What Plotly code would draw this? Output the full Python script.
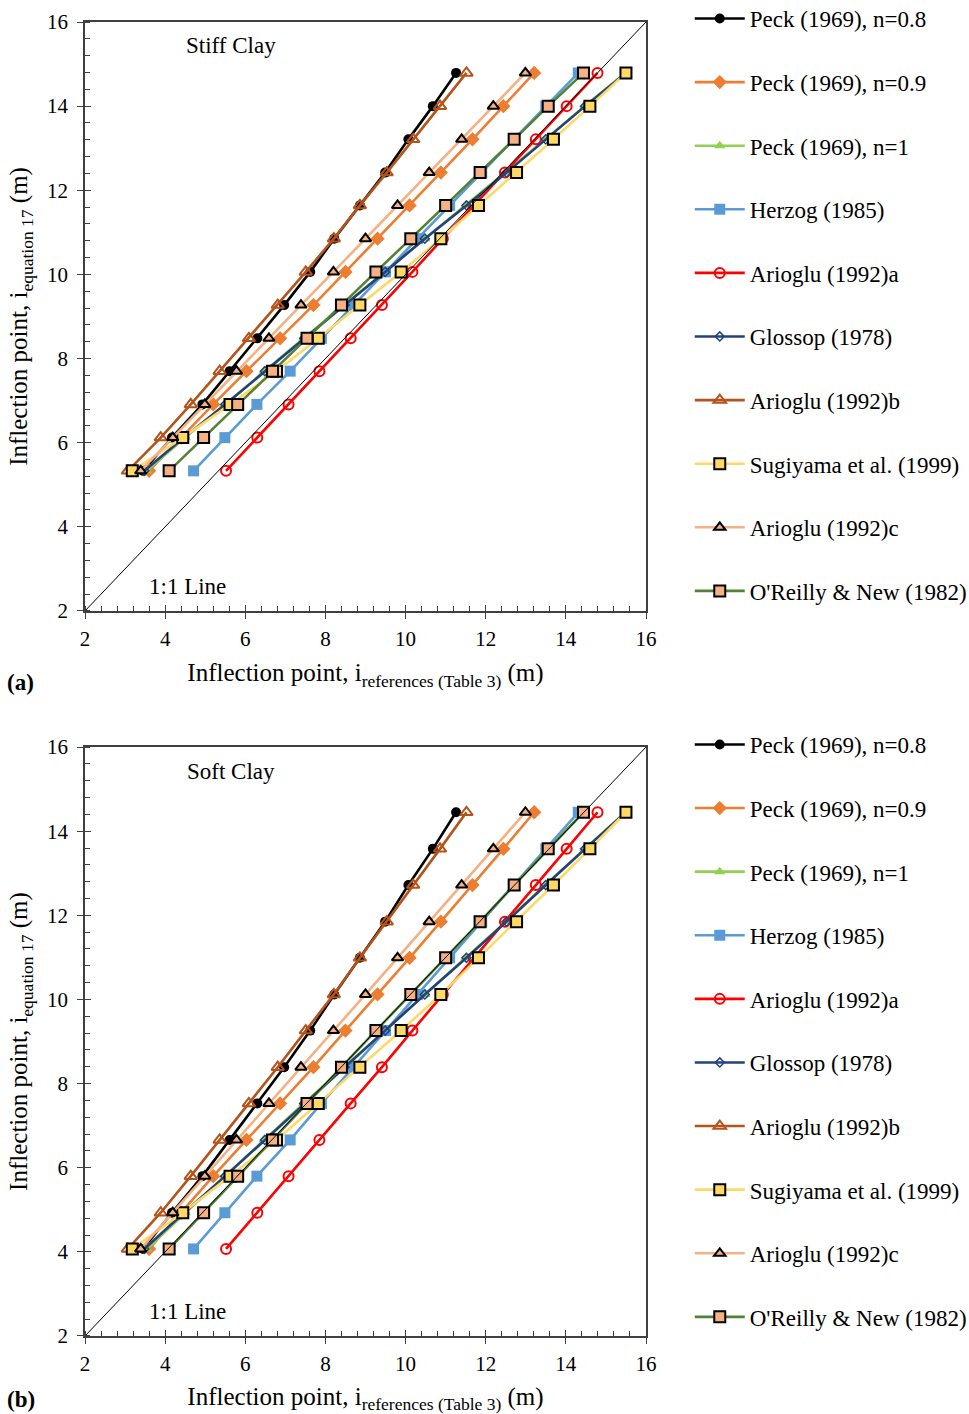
import plotly.graph_objects as go

# ---------------- data ----------------
y_stiff = [5.33, 6.12, 6.91, 7.70, 8.48, 9.27, 10.06, 10.85, 11.64, 12.42, 13.21, 14.00, 14.79]
y_soft = [4.07, 4.93, 5.80, 6.66, 7.53, 8.39, 9.26, 10.12, 10.99, 11.85, 12.72, 13.58, 14.45]

peck_08 = [3.45, 4.17, 4.93, 5.61, 6.30, 6.97, 7.62, 8.22, 8.86, 9.49, 10.07, 10.68, 11.26]
peck_09 = [3.60, 4.40, 5.20, 6.03, 6.87, 7.70, 8.50, 9.30, 10.10, 10.88, 11.67, 12.44, 13.21]
peck_1 = [3.54, 4.50, 5.49, 6.47, 7.46, 8.47, 9.48, 10.48, 11.51, 12.50, 13.49, 14.47, 15.48]
herzog = [4.71, 5.49, 6.29, 7.12, 7.90, 8.70, 9.50, 10.30, 11.10, 11.90, 12.70, 13.50, 14.31]
arioglu_a = [5.52, 6.30, 7.08, 7.85, 8.63, 9.41, 10.17, 10.93, 11.70, 12.48, 13.25, 14.02, 14.79]
glossop = [3.48, 4.47, 5.50, 6.49, 7.47, 8.48, 9.49, 10.48, 11.52, 12.52, 13.50, 14.48, 15.50]
arioglu_b = [3.07, 3.89, 4.64, 5.36, 6.09, 6.81, 7.51, 8.21, 8.86, 9.53, 10.19, 10.86, 11.52]
sugiyama = [3.18, 4.44, 5.62, 6.78, 7.82, 8.86, 9.89, 10.88, 11.82, 12.77, 13.69, 14.60, 15.50]
arioglu_c = [3.39, 4.19, 4.99, 5.78, 6.59, 7.39, 8.20, 9.00, 9.80, 10.59, 11.40, 12.19, 12.99]
oreilly = [4.10, 4.96, 5.81, 6.68, 7.54, 8.40, 9.26, 10.13, 11.00, 11.86, 12.71, 13.56, 14.44]

series_names = ["Peck (1969), n=0.8", "Peck (1969), n=0.9", "Peck (1969), n=1",
                "Herzog (1985)", "Arioglu (1992)a", "Glossop (1978)", "Arioglu (1992)b",
                "Sugiyama et al. (1999)", "Arioglu (1992)c", "O'Reilly & New (1982)"]
series_x = [peck_08, peck_09, peck_1, herzog, arioglu_a, glossop, arioglu_b,
            sugiyama, arioglu_c, oreilly]

one_to_one = [2, 16]
tick_vals = [2, 4, 6, 8, 10, 12, 14, 16]

# ---------------- styles ----------------
FONT = "Liberation Serif"
styles = [
    dict(line="#000000", symbol="circle", fill="#000000", mline="#000000", mw=0, size=10),
    dict(line="#ED7D31", symbol="diamond", fill="#ED7D31", mline="#ED7D31", mw=0, size=11),
    dict(line="#92D050", symbol="triangle-up", fill="#92D050", mline="#92D050", mw=0, size=10),
    dict(line="#5B9BD5", symbol="square", fill="#5B9BD5", mline="#5B9BD5", mw=0, size=11),
    dict(line="#FF0000", symbol="circle-open", fill="#FF0000", mline="#FF0000", mw=2, size=10),
    dict(line="#24427A", symbol="diamond-open", fill="#24427A", mline="#3A66A8", mw=1.5, size=7),
    dict(line="#B4531A", symbol="triangle-up-open", fill="#B4531A", mline="#B4531A", mw=2, size=11),
    dict(line="#FFD966", symbol="square", fill="#FFD966", mline="#000000", mw=2, size=11),
    dict(line="#F4B183", symbol="triangle-up", fill="#F4B183", mline="#000000", mw=2, size=10),
    dict(line="#548235", symbol="square", fill="#F4B183", mline="#000000", mw=2, size=11),
]

fig = go.Figure()

panels = [("x", "y", "x3", "y3", y_stiff, "legend"),
          ("x2", "y2", "x4", "y4", y_soft, "legend2")]

for xa, ya, xo, yo, yvals, leg in panels:
    for i, (name, xs) in enumerate(zip(series_names, series_x)):
        st = styles[i]
        fig.add_trace(go.Scatter(
            x=xs, y=yvals, mode="lines+markers", name=name,
            xaxis=xa, yaxis=ya, legend=leg, legendgroup=leg + str(i),
            line=dict(color=st["line"], width=2.6),
            marker=dict(symbol=st["symbol"], size=st["size"], color=st["fill"],
                        line=dict(color=st["mline"], width=st["mw"])),
        ))
    # 1:1 line on the overlay axes (which carry the inner half of the major ticks)
    fig.add_trace(go.Scatter(
        x=one_to_one, y=one_to_one, mode="lines", showlegend=False,
        xaxis=xo, yaxis=yo, line=dict(color="black", width=1), hoverinfo="skip"))

axis_common = dict(range=[2, 16], tickvals=tick_vals, showgrid=False, zeroline=False,
                   showline=True, linecolor="#404040", linewidth=1.5, mirror=True,
                   ticks="outside", ticklen=6, tickwidth=1.3, tickcolor="#404040",
                   tickfont=dict(family=FONT, size=21, color="black"),
                   minor=dict(ticks="inside", ticklen=5, tickwidth=1, tickcolor="#404040",
                              dtick=0.4, tick0=2, showgrid=False))
overlay_common = dict(range=[2, 16], tickvals=tick_vals, showgrid=False, zeroline=False,
                      showline=False, ticks="inside", ticklen=6, tickwidth=1.3,
                      tickcolor="#404040", showticklabels=False)

xtitle = "Inflection point, i<sub>references (Table 3)</sub> (m)"
ytitle = "Inflection point, i<sub>equation 17</sub> (m)"
title_font = dict(family=FONT, size=25, color="black")

top_dom = [0.5518, 1.0]
bot_dom = [0.0, 0.4482]

fig.update_layout(
    width=969, height=1414,
    margin=dict(l=85, r=323, t=22, b=78, autoexpand=False),
    paper_bgcolor="white", plot_bgcolor="white",
    font=dict(family=FONT, color="black"),
    xaxis=dict(axis_common, domain=[0, 1], anchor="y", ticklabelstandoff=2,
               title=dict(text=xtitle, font=title_font, standoff=14)),
    yaxis=dict(axis_common, domain=top_dom, anchor="x", ticklabelstandoff=5,
               title=dict(text=ytitle, font=title_font, standoff=12)),
    xaxis2=dict(axis_common, domain=[0, 1], anchor="y2", ticklabelstandoff=2,
                title=dict(text=xtitle, font=title_font, standoff=14)),
    yaxis2=dict(axis_common, domain=bot_dom, anchor="x2", ticklabelstandoff=5,
                title=dict(text=ytitle, font=title_font, standoff=12)),
    xaxis3=dict(overlay_common, overlaying="x", anchor="y3"),
    yaxis3=dict(overlay_common, overlaying="y", anchor="x3"),
    xaxis4=dict(overlay_common, overlaying="x2", anchor="y4"),
    yaxis4=dict(overlay_common, overlaying="y2", anchor="x4"),
    legend=dict(x=1.078, y=1.019, xanchor="left", yanchor="top",
                font=dict(family=FONT, size=23, color="black"), itemwidth=50,
                tracegroupgap=30.7, bgcolor="rgba(0,0,0,0)"),
    legend2=dict(x=1.078, y=0.4665, xanchor="left", yanchor="top",
                 font=dict(family=FONT, size=23, color="black"), itemwidth=50,
                 tracegroupgap=30.7, bgcolor="rgba(0,0,0,0)"),
    showlegend=True,
)

annos = [
    dict(text="Stiff Clay", x=5.64, y=15.43, xref="x", yref="y"),
    dict(text="1:1 Line", x=4.57, y=2.58, xref="x", yref="y"),
    dict(text="Soft Clay", x=5.64, y=15.43, xref="x2", yref="y2"),
    dict(text="1:1 Line", x=4.57, y=2.58, xref="x2", yref="y2"),
]
for a in annos:
    fig.add_annotation(a, showarrow=False, font=dict(family=FONT, size=23, color="black"),
                       xanchor="center", yanchor="middle")

fig.add_annotation(text="<b>(a)</b>", x=-0.1426, y=0.497, xref="paper", yref="paper",
                   showarrow=False, xanchor="left", yanchor="middle",
                   font=dict(family=FONT, size=23, color="black"))
fig.add_annotation(text="<b>(b)</b>", x=-0.1426, y=-0.0487, xref="paper", yref="paper",
                   showarrow=False, xanchor="left", yanchor="middle",
                   font=dict(family=FONT, size=23, color="black"))

fig.write_html("out.html")
